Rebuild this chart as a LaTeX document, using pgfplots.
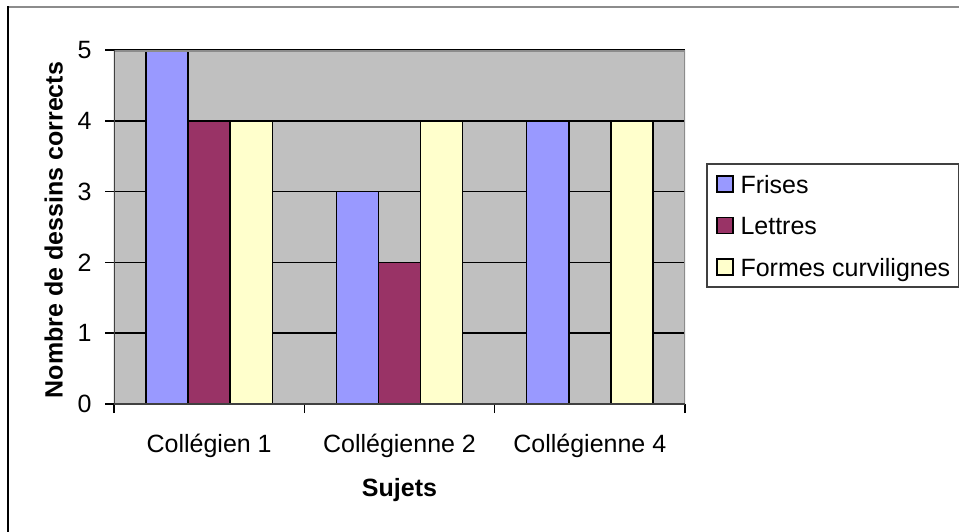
\documentclass[border=0pt]{standalone}
\usepackage{pgfplots}
\usepackage{pgfplotstable}
\pgfplotsset{compat=1.18}
\usepackage{fontspec}
\setmainfont{Liberation Sans}

\definecolor{frises}{HTML}{9999FF}
\definecolor{lettres}{HTML}{993366}
\definecolor{formes}{HTML}{FFFFCC}
\definecolor{plotbg}{HTML}{C0C0C0}
\definecolor{axisdark}{HTML}{404040}
\definecolor{framegray}{HTML}{8C8C8C}
\newcommand\chartfont{\fontsize{12.5}{15}\selectfont}

% correct drawings per subject and task
\pgfplotstableread{
idx Frises Lettres Formes
0   5      4       4
1   3      2       4
2   4      0       4
}\scores

\begin{document}
\begin{tikzpicture}
\useasboundingbox (0,0) rectangle (479.5pt,265.5pt);
\clip (0,0) rectangle (479.5pt,265.5pt);
% chart area outline
\draw[color=framegray, line width=1pt] (4pt,261.75pt) -- (481pt,261.75pt);
\draw[color=black, line width=1pt] (4pt,262.25pt) -- (4pt,-1pt);
\begin{axis}[
  at={(57pt,63.5pt)}, anchor=south west,
  scale only axis, width=285.5pt, height=177pt,
  ybar=0pt, bar width=0.2214,
  xmin=-0.5, xmax=2.5, ymin=0, ymax=5,
  axis background/.style={fill=plotbg},
  axis line style={draw=none},
  xtick={0,1,2},
  xticklabels={Collégien 1, Collégienne 2, Collégienne 4},
  major x tick style={draw=none},
  minor xtick={-0.5,0.5,1.5,2.5},
  ytick={0,...,5},
  tick align=outside, tick pos=left,
  major tick length=4.5pt, minor tick length=4.5pt,
  tick style={black, line width=0.75pt},
  ymajorgrids, grid style={black, line width=0.75pt},
  /pgf/number format/assume math mode=true,
  xticklabel style={font=\chartfont, inner sep=0pt, text height=9pt, anchor=north, yshift=-10.5pt},
  yticklabel style={font=\chartfont, inner sep=0pt, xshift=-6.5pt},
  xlabel={Sujets},
  xlabel style={font=\chartfont\bfseries, at={(axis description cs:0.5,0)}, anchor=north, inner sep=0pt, text height=9pt, yshift=-37pt},
  ylabel={Nombre de dessins corrects},
  ylabel style={font=\chartfont\bfseries, at={(axis description cs:-0.0893,0.4915)}, anchor=south, inner sep=0pt, text depth=0pt},
  legend cell align=left,
  legend style={at={(1.0368,0.6808)}, anchor=north west, draw=axisdark, line width=1pt, fill=white,
    inner xsep=4.5pt, inner ysep=4pt, row sep=8.75pt, column sep=3.5pt, font=\chartfont,
    nodes={inner sep=0pt, text height=10.5pt, text depth=1.5pt}},
  legend image code/.code={\draw[#1, draw=black, line width=0.75pt] (0pt,-4pt) rectangle (8pt,4pt);},
]
\addplot[fill=frises, draw=black, line width=0.75pt] table[x=idx, y=Frises]{\scores};
\addlegendentry{Frises}
\addplot[fill=lettres, draw=black, line width=0.75pt] table[x=idx, y=Lettres]{\scores};
\addlegendentry{Lettres}
\addplot[fill=formes, draw=black, line width=0.75pt] table[x=idx, y=Formes]{\scores};
\addlegendentry{Formes curvilignes}
% plot area border
\draw[framegray, line width=1.5pt] (rel axis cs:0,1) -- (rel axis cs:1,1) -- (rel axis cs:1,0);
\draw[axisdark, line width=1.5pt] (rel axis cs:0,1) -- (rel axis cs:0,0) -- (rel axis cs:1,0);
\end{axis}
\end{tikzpicture}
\end{document}
